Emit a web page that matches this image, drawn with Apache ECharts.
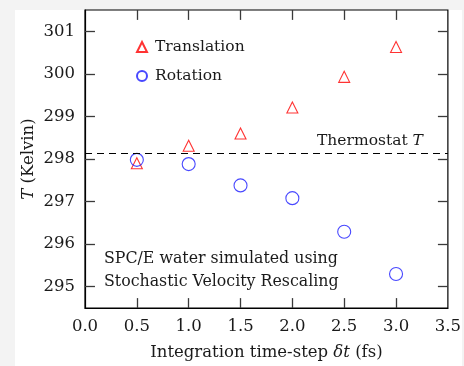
<!DOCTYPE html>
<html><head><meta charset="utf-8">
<script src="https://cdn.jsdelivr.net/npm/echarts@6/dist/echarts.min.js"></script>
<style>
html,body{margin:0;padding:0;background:#f3f3f3}
#wrap{position:relative;width:464px;height:366px;overflow:hidden}
#paper{position:absolute;left:15px;top:10px;width:447px;height:356px;background:#fff}
#c{position:absolute;left:0;top:0;width:464px;height:366px}
</style>
</head><body><div id="wrap"><div id="paper"></div><div id="c"></div></div>
<script>
const timeSteps = [0.5, 1.0, 1.5, 2.0, 2.5, 3.0];
const translationT = [297.9, 298.31, 298.6, 299.21, 299.93, 300.63];
const rotationT = [297.98, 297.88, 297.38, 297.08, 296.29, 295.3];
const thermostatT = 298.14;
const xTicks = [0.5, 1.0, 1.5, 2.0, 2.5, 3.0];
const yTicks = [295, 296, 297, 298, 299, 300, 301];
const xRange = [0, 3.5];
const yRange = [294.5, 301.5];

const FONT = 'DejaVu Serif';
const TXT = '#1a1a1a';
const GRID = {left: 85, right: 15, top: 10, bottom: 55};
const W = 464, H = 366, TICK_PX = 10;
// tick length converted from pixels into data units of each axis
const tickDX = TICK_PX * (xRange[1] - xRange[0]) / (W - GRID.left - GRID.right);
const tickDY = TICK_PX * (yRange[1] - yRange[0]) / (H - GRID.top - GRID.bottom);

const tickSegments = [];
xTicks.forEach(x => {
  tickSegments.push([{coord: [x, yRange[0]]}, {coord: [x, yRange[0] + tickDY]}]);
  tickSegments.push([{coord: [x, yRange[1]]}, {coord: [x, yRange[1] - tickDY]}]);
});
yTicks.forEach(y => {
  tickSegments.push([{coord: [xRange[0], y]}, {coord: [xRange[0] + tickDX, y]}]);
  tickSegments.push([{coord: [xRange[1], y]}, {coord: [xRange[1] - tickDX, y]}]);
});

const chart = echarts.init(document.getElementById('c'));
const pair = (xs, ys) => xs.map((x, i) => [x, ys[i]]);
const nameStyle = {fontFamily: FONT, fontSize: 16.5, color: TXT,
  rich: {i: {fontFamily: FONT, fontSize: 16.5, fontStyle: 'italic', color: TXT}}};

chart.setOption({
  animation: false,
  graphic: [
    {type: 'text', left: 104, top: 247, silent: true,
     style: {text: 'SPC/E water simulated using\nStochastic Velocity Rescaling', font: '15.8px "' + FONT + '"', fill: TXT, lineHeight: 23}}
  ],
  grid: Object.assign({show: true, borderColor: '#000', borderWidth: 1.2, backgroundColor: 'transparent'}, GRID),
  legend: {
    left: 131, top: 33, orient: 'vertical', itemGap: 11, itemWidth: 10, itemHeight: 10,
    textStyle: {fontFamily: FONT, fontSize: 15.5, color: TXT, lineHeight: 18, padding: [0, 0, 0, 3]},
    data: ['Translation', 'Rotation']
  },
  xAxis: {type: 'value', min: xRange[0], max: xRange[1], interval: 0.5,
     axisLine: {show: true, lineStyle: {color: '#000', width: 1.2}}, axisTick: {show: false}, splitLine: {show: false},
     axisLabel: {formatter: v => v.toFixed(1), fontFamily: FONT, fontSize: 16.5, color: TXT, margin: 10},
     name: 'Integration time-step {i|δt} (fs)', nameLocation: 'middle', nameGap: 36, nameMoveOverlap: false,
     nameTextStyle: nameStyle},
  yAxis: {type: 'value', min: yRange[0], max: yRange[1],
     axisLine: {show: true, lineStyle: {color: '#000', width: 1.2}}, axisTick: {show: false}, splitLine: {show: false},
     axisLabel: {customValues: yTicks, fontFamily: FONT, fontSize: 16.5, color: TXT, margin: 10},
     name: '{i|T} (Kelvin)', nameLocation: 'middle', nameGap: 48, nameMoveOverlap: false,
     nameTextStyle: nameStyle},
  series: [
    {name: 'Translation', type: 'scatter', symbol: 'triangle', symbolSize: 11,
     itemStyle: {color: 'rgba(0,0,0,0)', borderColor: '#ff0000', borderWidth: 1.1},
     data: pair(timeSteps, translationT),
     markLine: {silent: true, symbol: 'none', animation: false,
       lineStyle: {color: '#000', type: [7, 5], width: 1.2},
       label: {show: true, position: 'insideEndTop', distance: 4, padding: [0, 21, 0, 0],
         formatter: '{n|Thermostat }{i|T}',
         rich: {n: {fontFamily: FONT, fontSize: 15.5, color: TXT}, i: {fontFamily: FONT, fontSize: 15.5, fontStyle: 'italic', color: TXT}}},
       data: [{yAxis: thermostatT}]}
    },
    {name: 'Rotation', type: 'scatter', symbol: 'circle', symbolSize: 13,
     itemStyle: {color: 'rgba(0,0,0,0)', borderColor: '#1a1aff', borderWidth: 1.1},
     data: pair(timeSteps, rotationT),
     markLine: {silent: true, symbol: 'none', animation: false,
       lineStyle: {color: '#3a3a3a', type: 'solid', width: 1.3},
       label: {show: false},
       data: tickSegments}
    }
  ]
});
</script></body></html>
